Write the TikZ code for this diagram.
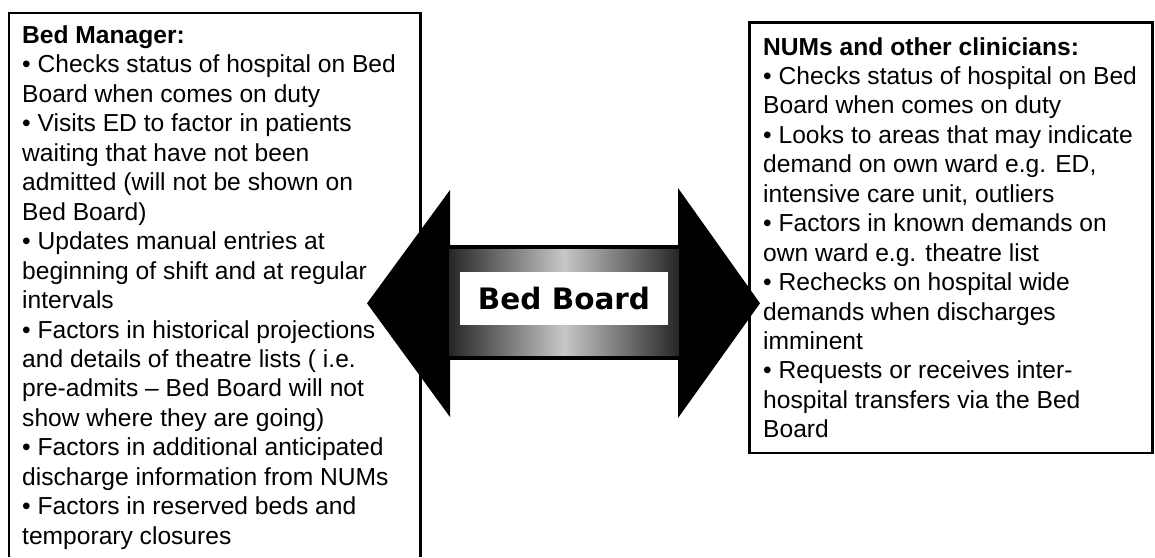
\documentclass[tikz,border=0pt]{standalone}
\usepackage{fontspec}
\setmainfont{Liberation Sans}
\newfontfamily\bbfont{DejaVu Sans}
\begin{document}
\begin{tikzpicture}[x=1pt,y=-1pt,
  boxline/.style={line width=2.5pt, black},
  boxtext/.style={anchor=base west, inner sep=0pt, font=\fontsize{24.6}{29.45}\selectfont},
  headfill/.style={fill=black},
  shaftedge/.style={line width=4pt, black}]
\useasboundingbox (0,0) rectangle (1155,557);
% left box
\draw[boxline] (9,557) -- (9,13) -- (420.5,13) -- (420.5,557);
\node[boxtext] (leftbox) at (22,43.5) {\parbox[t]{395pt}{\raggedright
\textbf{Bed Manager:}\\
• Checks status of hospital on Bed\\
Board when comes on duty\\
• Visits ED to factor in patients\\
waiting that have not been\\
admitted (will not be shown on\\
Bed Board)\\
• Updates manual entries at\\
beginning of shift and at regular\\
intervals\\
• Factors in historical projections\\
and details of theatre lists ( i.e.\\
pre-admits – Bed Board will not\\
show where they are going)\\
• Factors in additional anticipated\\
discharge information from NUMs\\
• Factors in reserved beds and\\
temporary closures}};
% right box
\draw[boxline] (749.5,22.7) rectangle (1152.5,453);
\node[boxtext] (rightbox) at (763,55) {\parbox[t]{385pt}{\raggedright
\textbf{NUMs and other clinicians:}\\
• Checks status of hospital on Bed\\
Board when comes on duty\\
• Looks to areas that may indicate\\
demand on own ward e.g. ED,\\
intensive care unit, outliers\\
• Factors in known demands on\\
own ward e.g. theatre list\\
• Rechecks on hospital wide\\
demands when discharges\\
imminent\\
• Requests or receives inter-\\
hospital transfers via the Bed\\
Board}};
% double arrow
\coordinate (ltip) at (367,303.3);
\coordinate (rtip) at (760,303.3);
\fill[headfill] (ltip) -- (450,190) -- (450,417) -- cycle;
\fill[headfill] (rtip) -- (678,188) -- (678,418) -- cycle;
\shade[left color=black!85, right color=black!85, middle color=black!22] (449,247) rectangle (679,358);
\draw[shaftedge] (449,247) -- (679,247);
\draw[shaftedge] (449,358) -- (679,358);
\node[fill=white, minimum width=208pt, minimum height=53pt, inner sep=0pt,
  font=\bbfont\bfseries\fontsize{29.5}{34}\selectfont] (bedboard) at (564,298.5) {Bed Board};
\end{tikzpicture}
\end{document}
